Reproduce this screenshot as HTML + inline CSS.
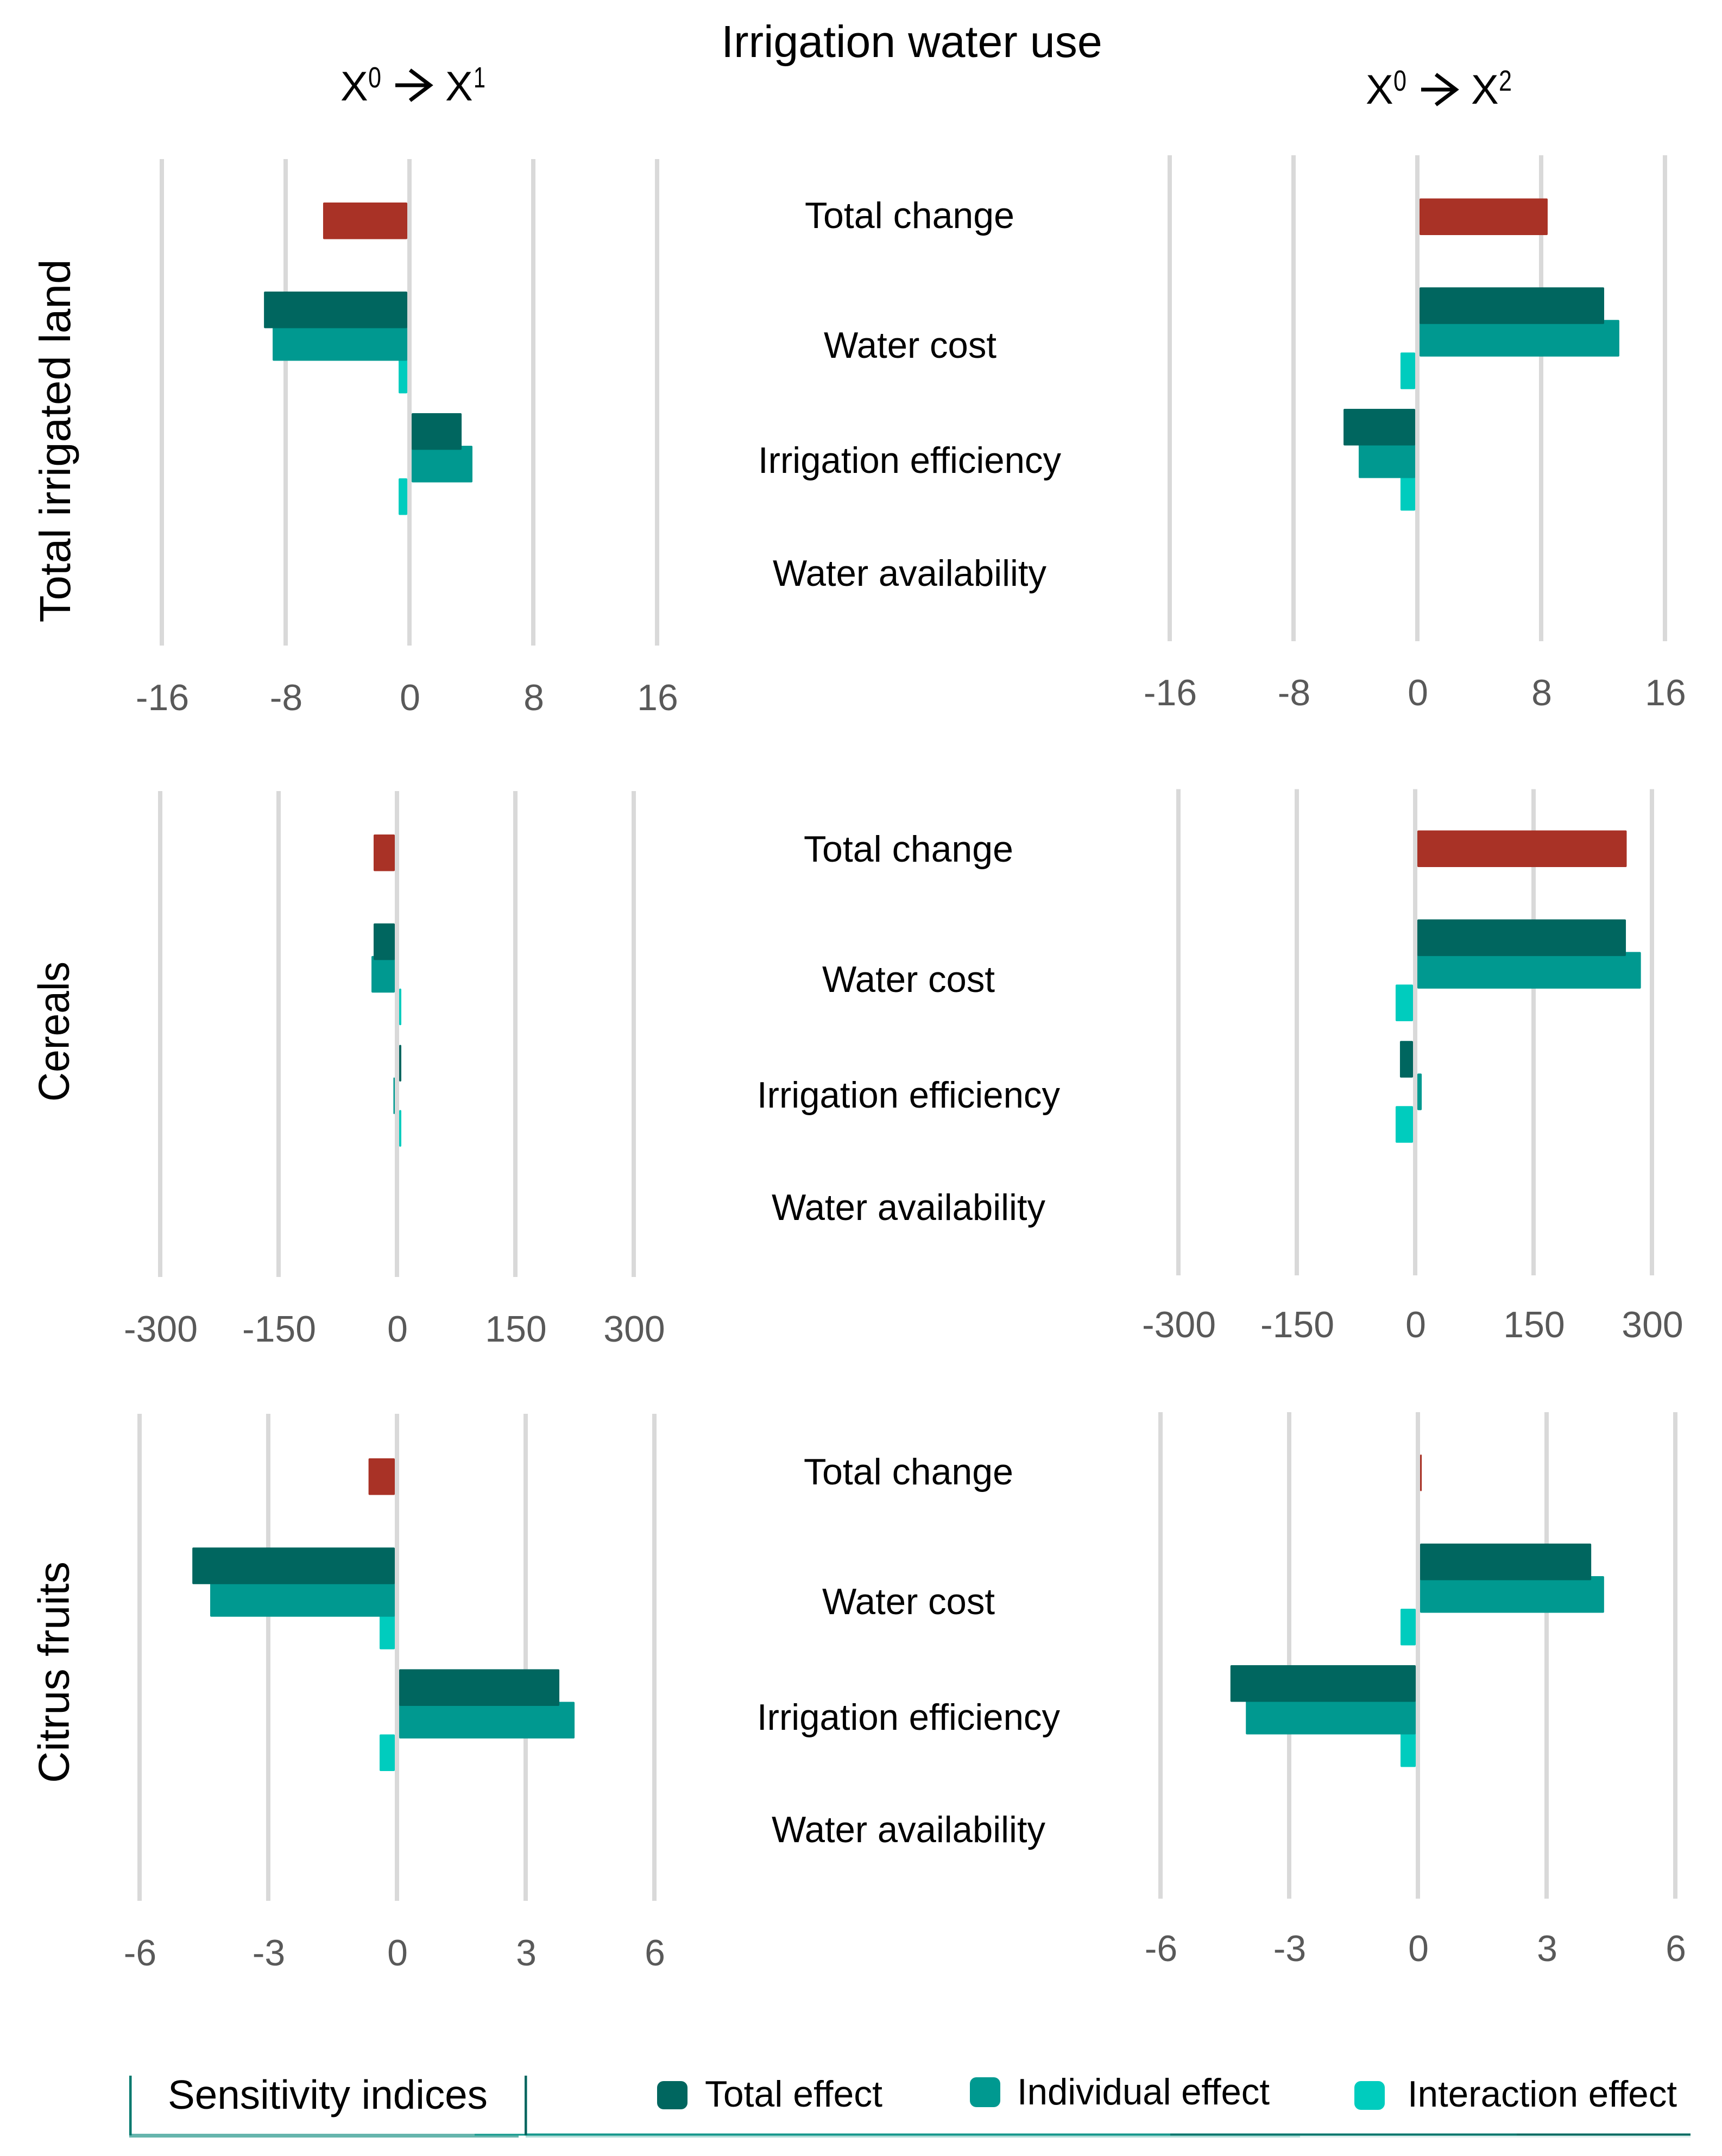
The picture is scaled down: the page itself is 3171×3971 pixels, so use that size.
<!DOCTYPE html>
<html lang="en">
<head>
<meta charset="utf-8">
<title>Irrigation water use sensitivity indices</title>
<style>
html,body{margin:0;padding:0;background:#fff;}
svg{display:block;}
text{font-family:"Liberation Sans",sans-serif;}
.cat{font-size:67.5px;fill:#000;text-anchor:middle;}
.tick{font-size:68px;fill:#595959;text-anchor:middle;}
.ytitle{font-size:80px;fill:#000;text-anchor:middle;}
.hx{font-size:76px;fill:#000;}
.hs{font-size:54px;fill:#000;}
.leg{font-size:67.5px;fill:#000;}
</style>
</head>
<body>
<svg id="chart" xmlns="http://www.w3.org/2000/svg" width="3171" height="3971" viewBox="0 0 3171 3971">
  <rect x="0" y="0" width="3171" height="3971" fill="#ffffff"/>
  <g id="plots"></g>

  <text x="1679" y="105" font-size="82.5" text-anchor="middle" fill="#000">Irrigation water use</text>

  <g>
    <text class="hx" x="627" y="185">X</text>
    <text class="hs" x="678" y="161" textLength="24" lengthAdjust="spacingAndGlyphs">0</text>
    <path d="M728 157H790M755 129L792 157L755 185" fill="none" stroke="#000" stroke-width="7"/>
    <text class="hx" x="820" y="185">X</text>
    <text class="hs" x="872" y="161" textLength="22" lengthAdjust="spacingAndGlyphs">1</text>
  </g>
  <g>
    <text class="hx" x="2515" y="191">X</text>
    <text class="hs" x="2566" y="167" textLength="24" lengthAdjust="spacingAndGlyphs">0</text>
    <path d="M2617 165H2679M2644 137L2681 165L2644 193" fill="none" stroke="#000" stroke-width="7"/>
    <text class="hx" x="2709" y="191">X</text>
    <text class="hs" x="2760" y="167" textLength="24" lengthAdjust="spacingAndGlyphs">2</text>
  </g>

  <text class="ytitle" transform="translate(129 812) rotate(-90)" textLength="669" lengthAdjust="spacingAndGlyphs">Total irrigated land</text>
  <text class="ytitle" transform="translate(126.5 1900) rotate(-90)" textLength="258" lengthAdjust="spacingAndGlyphs">Cereals</text>
  <text class="ytitle" transform="translate(126.5 3080) rotate(-90)" textLength="408" lengthAdjust="spacingAndGlyphs">Citrus fruits</text>

  <g>
    <text class="cat" x="1675" y="420" textLength="386" lengthAdjust="spacingAndGlyphs">Total change</text>
    <text class="cat" x="1676" y="659" textLength="318" lengthAdjust="spacingAndGlyphs">Water cost</text>
    <text class="cat" x="1675" y="871" textLength="558" lengthAdjust="spacingAndGlyphs">Irrigation efficiency</text>
    <text class="cat" x="1675" y="1079" textLength="504" lengthAdjust="spacingAndGlyphs">Water availability</text>
  </g>
  <g>
    <text class="cat" x="1673" y="1587" textLength="386" lengthAdjust="spacingAndGlyphs">Total change</text>
    <text class="cat" x="1673" y="1827" textLength="318" lengthAdjust="spacingAndGlyphs">Water cost</text>
    <text class="cat" x="1673" y="2040" textLength="558" lengthAdjust="spacingAndGlyphs">Irrigation efficiency</text>
    <text class="cat" x="1673" y="2247" textLength="504" lengthAdjust="spacingAndGlyphs">Water availability</text>
  </g>
  <g>
    <text class="cat" x="1673" y="2734" textLength="386" lengthAdjust="spacingAndGlyphs">Total change</text>
    <text class="cat" x="1673" y="2973" textLength="318" lengthAdjust="spacingAndGlyphs">Water cost</text>
    <text class="cat" x="1673" y="3186" textLength="558" lengthAdjust="spacingAndGlyphs">Irrigation efficiency</text>
    <text class="cat" x="1673" y="3393" textLength="504" lengthAdjust="spacingAndGlyphs">Water availability</text>
  </g>

  <g>
    <rect x="238" y="3930" width="717" height="7" fill="#66B5AD"/>
    <rect x="874" y="3930" width="94" height="3.5" fill="#22A094"/>
    <rect x="968" y="3933" width="1426" height="4" fill="#B2DDD8"/>
    <rect x="2394" y="3933" width="719" height="4" fill="#E0F0EE"/>
    <rect x="968" y="3929.5" width="1187" height="4" fill="#16988C"/>
    <rect x="2155" y="3929.5" width="638" height="4" fill="#00766C"/>
    <rect x="2793" y="3929.5" width="320" height="4" fill="#006B62"/>
    <rect x="238" y="3823" width="4.5" height="110" fill="#00796E"/>
    <rect x="966" y="3823" width="4.5" height="110" fill="#00665F"/>
    <text x="309" y="3884" font-size="75" textLength="589" lengthAdjust="spacingAndGlyphs" fill="#000">Sensitivity indices</text>
    <rect x="1210" y="3833" width="56" height="52" rx="12" fill="#00665F"/>
    <text class="leg" x="1298" y="3880" textLength="327" lengthAdjust="spacingAndGlyphs">Total effect</text>
    <rect x="1786" y="3826" width="56" height="55" rx="12" fill="#009990"/>
    <text class="leg" x="1873" y="3876" textLength="465" lengthAdjust="spacingAndGlyphs">Individual effect</text>
    <rect x="2494" y="3833" width="56" height="53" rx="12" fill="#00CCBE"/>
    <text class="leg" x="2592" y="3880" textLength="496" lengthAdjust="spacingAndGlyphs">Interaction effect</text>
  </g>
</svg>

<script>
const categories = ['total-change', 'water-cost', 'irrigation-efficiency', 'water-availability'];

const ticksLand = [-16, -8, 0, 8, 16];
const ticksCereals = [-300, -150, 0, 150, 300];
const ticksCitrus = [-6, -3, 0, 3, 6];

const landX1Change = [-5.58, null, null, null];
const landX1Total = [null, -9.40, 3.37, null];
const landX1Individual = [null, -8.84, 4.07, null];
const landX1Interaction = [null, -0.70, -0.70, null];

const landX2Change = [8.42, null, null, null];
const landX2Total = [null, 12.07, -4.77, null];
const landX2Individual = [null, 13.05, -3.79, null];
const landX2Interaction = [null, -1.09, -1.09, null];

const cerealsX1Change = [-29.6, null, null, null];
const cerealsX1Total = [null, -29.6, 5.5, null];
const cerealsX1Individual = [null, -32.3, -4.5, null];
const cerealsX1Interaction = [null, 5.5, 5.5, null];

const cerealsX2Change = [268, null, null, null];
const cerealsX2Total = [null, 267, -19.3, null];
const cerealsX2Individual = [null, 286, 8.3, null];
const cerealsX2Interaction = [null, -24.8, -24.8, null];

const citrusX1Change = [-0.663, null, null, null];
const citrusX1Total = [null, -4.77, 3.785, null];
const citrusX1Individual = [null, -4.354, 4.14, null];
const citrusX1Interaction = [null, -0.405, -0.405, null];

const citrusX2Change = [0.09, null, null, null];
const citrusX2Total = [null, 4.04, -4.37, null];
const citrusX2Individual = [null, 4.34, -4.01, null];
const citrusX2Interaction = [null, -0.405, -0.405, null];

const SVG_NS = 'http://www.w3.org/2000/svg';
const plots = document.getElementById('plots');
const COLOR_CHANGE = '#A93226';
const COLOR_TOTAL = '#00665F';
const COLOR_INDIVIDUAL = '#009990';
const COLOR_INTERACTION = '#00CCBE';

function make(tag, parent) {
  const el = document.createElementNS(SVG_NS, tag);
  parent.appendChild(el);
  return el;
}

function drawPanel(id, ticks, change, total, individual, interaction, left, right, top, bottom, slotStart, labelY) {
  const group = make('g', plots);
  
  

  const xMin = ticks[0];
  const xMax = ticks[ticks.length - 1];
  const xScale = function (v) { return left + (v - xMin) / (xMax - xMin) * (right - left); };
  const band = (bottom - top) / categories.length;
  const yScale = function (catIndex, slot) { return top + catIndex * band + slotStart + slot * 60; };

  ticks.forEach(function (t) {
    const line = make('rect', group);
    line.setAttribute('x', xScale(t) - 4);
    line.setAttribute('y', top);
    line.setAttribute('width', 8);
    line.setAttribute('height', bottom - top);
    line.setAttribute('fill', '#D9D9D9');
    
    

    const label = make('text', group);
    label.setAttribute('class', 'tick');
    label.setAttribute('x', xScale(t) + 1);
    label.setAttribute('y', labelY);
    label.textContent = String(t);
    
    
  });

  function drawBars(values, slot, color, seriesName) {
    values.forEach(function (v, i) {
      if (v === null) return;
      const zero = xScale(0);
      const end = xScale(v);
      const x0 = v < 0 ? end : zero + 4;
      const x1 = v < 0 ? zero - 4 : end;
      const bar = make('rect', group);
      bar.setAttribute('x', x0);
      bar.setAttribute('y', yScale(i, slot));
      bar.setAttribute('width', Math.max(x1 - x0, 1));
      bar.setAttribute('height', 67.5);
      bar.setAttribute('rx', 2);
      bar.setAttribute('fill', color);
      
      
    });
  }

  drawBars(interaction, 2, COLOR_INTERACTION, 'interaction');
  drawBars(individual, 1, COLOR_INDIVIDUAL, 'individual');
  drawBars(total, 0, COLOR_TOTAL, 'total');
  drawBars(change, 1, COLOR_CHANGE, 'change');
}

drawPanel('land-x1', ticksLand, landX1Change, landX1Total, landX1Individual, landX1Interaction, 298, 1210, 293, 1189, 20, 1308);
drawPanel('land-x2', ticksLand, landX2Change, landX2Total, landX2Individual, landX2Interaction, 2154, 3066, 286, 1181, 19.5, 1299);
drawPanel('cereals-x1', ticksCereals, cerealsX1Change, cerealsX1Total, cerealsX1Individual, cerealsX1Interaction, 295, 1167, 1457, 2352, 20, 2471);
drawPanel('cereals-x2', ticksCereals, cerealsX2Change, cerealsX2Total, cerealsX2Individual, cerealsX2Interaction, 2170, 3042, 1453.5, 2349, 16, 2463);
drawPanel('citrus-x1', ticksCitrus, citrusX1Change, citrusX1Total, citrusX1Individual, citrusX1Interaction, 257, 1205, 2604, 3501, 22, 3620);
drawPanel('citrus-x2', ticksCitrus, citrusX2Change, citrusX2Total, citrusX2Individual, citrusX2Interaction, 2137, 3085, 2601, 3497, 18, 3612);
</script>
</body>
</html>
